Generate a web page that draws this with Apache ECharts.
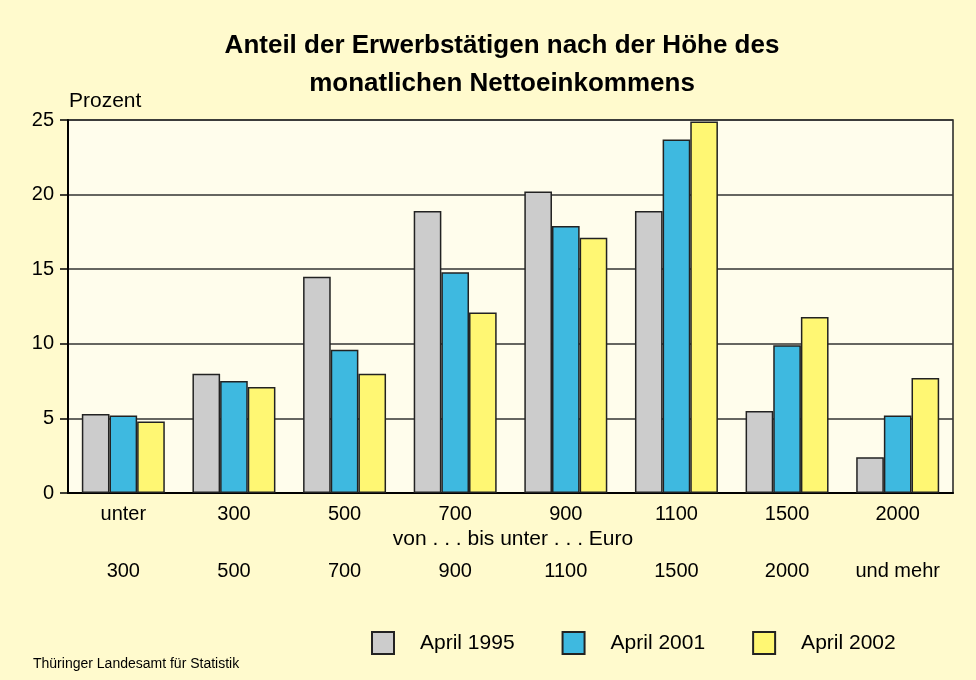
<!DOCTYPE html>
<html>
<head>
<meta charset="utf-8">
<title>Anteil der Erwerbstätigen nach Nettoeinkommen</title>
<script src="https://cdn.jsdelivr.net/npm/echarts@6/dist/echarts.min.js"></script>
<style>
  html, body { margin: 0; padding: 0; background: #fffacd; }
  #main { width: 976px; height: 680px; }
</style>
</head>
<body>
<div id="main"></div>
<script>
// Einkommensklassen: obere und untere Zeile der Achsenbeschriftung
const classFrom = ['unter', '300', '500', '700', '900', '1100', '1500', '2000'];
const classTo = ['300', '500', '700', '900', '1100', '1500', '2000', 'und mehr'];

// Anteile in Prozent
const april1995 = [5.3, 8.0, 14.5, 18.9, 20.2, 18.9, 5.5, 2.4];
const april2001 = [5.2, 7.5, 9.6, 14.8, 17.9, 23.7, 9.9, 5.2];
const april2002 = [4.8, 7.1, 8.0, 12.1, 17.1, 24.9, 11.8, 7.7];

const yTicks = [0, 5, 10, 15, 20, 25];

const font = 'Liberation Sans, Arial, sans-serif';
const categories = classFrom.map((f, i) => f + '|' + classTo[i]);

function barSeries(name, data, color) {
  return {
    name: name,
    type: 'bar',
    data: data,
    barGap: '0%',
    barCategoryGap: '25%',
    itemStyle: { color: color, borderColor: '#222', borderWidth: 1.5 }
  };
}

const chart = echarts.init(document.getElementById('main'));
chart.setOption({
  backgroundColor: '#fffacd',
  animation: false,
  textStyle: { fontFamily: font },
  title: {
    text: 'Anteil der Erwerbstätigen nach der Höhe des\nmonatlichen Nettoeinkommens',
    left: 497,
    top: 22,
    textAlign: 'center',
    textStyle: { fontSize: 26, fontWeight: 'bold', color: '#000', lineHeight: 38, fontFamily: font }
  },
  grid: {
    left: 68, right: 23, top: 120, bottom: 187,
    show: true,
    backgroundColor: '#fffdec',
    borderColor: '#222',
    borderWidth: 1.5
  },
  legend: {
    left: 371,
    top: 631,
    padding: 0,
    itemWidth: 22,
    itemHeight: 22,
    itemGap: 47,
    icon: 'rect',
    textStyle: { fontSize: 21, color: '#000', padding: [0, 0, 0, 21], fontFamily: font },
    data: ['April 1995', 'April 2001', 'April 2002']
  },
  xAxis: {
    type: 'category',
    data: categories,
    axisLine: { lineStyle: { color: '#000', width: 2 } },
    axisTick: { show: false },
    axisLabel: {
      margin: 7,
      fontSize: 20,
      color: '#000',
      lineHeight: 28.5,
      formatter: v => { const p = v.split('|'); return p[0] + '\n\n' + p[1]; }
    }
  },
  yAxis: {
    type: 'value',
    min: yTicks[0],
    max: yTicks[yTicks.length - 1],
    interval: 5,
    name: 'Prozent',
    nameLocation: 'end',
    nameGap: 8,
    nameTextStyle: { fontSize: 21, color: '#000', align: 'left', padding: [0, 0, 0, 1] },
    axisLine: { show: true, lineStyle: { color: '#000', width: 2 } },
    axisTick: { show: true, length: 8, lineStyle: { color: '#000', width: 1.5 } },
    axisLabel: { fontSize: 20, color: '#000', margin: 14 },
    splitLine: { lineStyle: { color: '#333', width: 1.5 } }
  },
  graphic: [
    {
      type: 'text',
      x: 513,
      y: 529,
      style: { text: 'von . . . bis unter . . . Euro', fill: '#000', font: '21px ' + font, textAlign: 'center' }
    },
    {
      type: 'text',
      left: 33,
      top: 657,
      style: { text: 'Thüringer Landesamt für Statistik', fill: '#000', font: '14px ' + font }
    }
  ],
  series: [
    barSeries('April 1995', april1995, '#cccccc'),
    barSeries('April 2001', april2001, '#3eb9e0'),
    barSeries('April 2002', april2002, '#fff773')
  ]
});
</script>
</body>
</html>
